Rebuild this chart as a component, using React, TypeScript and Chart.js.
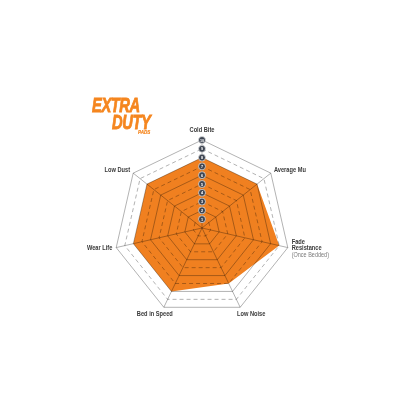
import React, { useEffect, useRef } from 'react';
import { Chart, registerables } from 'chart.js';

Chart.register(...registerables);

// axis names, clockwise from the top
const categories = ['Cold Bite', 'Average Mu', ['Fade', 'Resistance'], 'Low Noise', 'Bed in Speed', 'Wear Life', 'Low Dust'];
const categoryNotes = ['', '', '(Once Bedded)', '', '', '', ''];
const ratings = [8, 8, 9, 7, 8, 8, 8];
const tickValues = [1, 2, 3, 4, 5, 6, 7, 8, 9, 10];
const tickLabels = ['1', '2', '3', '4', '5', '6', '7', '8', '9', '10'];

const ORANGE = '#f08020';
const LABEL_FONT = '"Liberation Sans Narrow", "Arial Narrow", "Liberation Sans", Arial, sans-serif';
const SQUEEZE = 0.86; // horizontal squeeze for the condensed label type

// draws text squeezed horizontally around its anchor
function squeezedText(ctx: CanvasRenderingContext2D, text: string, x: number, y: number) {
    ctx.save();
    ctx.translate(x, y);
    ctx.scale(SQUEEZE, 1);
    ctx.fillText(text, 0, 0);
    ctx.restore();
}

// numbered badges up the first spoke
const badgePlugin = {
    id: 'ratingBadges',
    afterDraw(chart: any) {
        const scale = chart.scales.r;
        const ctx = chart.ctx;
        ctx.save();
        tickValues.forEach((v, i) => {
            const p = scale.getPointPositionForValue(0, v);
            ctx.beginPath();
            ctx.arc(p.x, p.y, 3.5, 0, Math.PI * 2);
            ctx.fillStyle = '#3f4653';
            ctx.fill();
            ctx.lineWidth = 0.7;
            ctx.strokeStyle = '#e8e8e8';
            ctx.stroke();
            ctx.fillStyle = '#ffffff';
            ctx.font = `bold 4.4px ${LABEL_FONT}`;
            ctx.textAlign = 'center';
            ctx.textBaseline = 'middle';
            squeezedText(ctx, tickLabels[i], p.x, p.y + 0.3);
        });
        ctx.restore();
    }
};

// axis names next to the outer polygon
const axisNamePlugin = {
    id: 'axisNames',
    afterDraw(chart: any) {
        const scale = chart.scales.r;
        const ctx = chart.ctx;
        const outer = scale.drawingArea;
        const lh = 6.8;
        ctx.save();
        ctx.textBaseline = 'middle';
        categories.forEach((label, i) => {
            const lines = (Array.isArray(label) ? label : [label]).map((t) => ({ t, note: false }));
            if (categoryNotes[i]) lines.push({ t: categoryNotes[i], note: true });
            const tip = scale.getPointPosition(i, outer);
            const deg = (((tip.angle + Math.PI / 2) * 180) / Math.PI + 360) % 360;
            let x: number;
            let y0: number;
            let align: CanvasTextAlign;
            if (deg < 1 || deg > 359) {
                align = 'center';
                x = tip.x;
                y0 = tip.y - 10;
            } else if (deg > 150 && deg < 210) {
                align = 'center';
                x = tip.x + (deg < 180 ? 11 : -9);
                y0 = tip.y + 7;
            } else {
                const p = scale.getPointPosition(i, outer + 4);
                align = deg < 180 ? 'left' : 'right';
                x = p.x;
                y0 = p.y - ((lines.length - 1) * lh) / 2;
            }
            ctx.textAlign = align;
            lines.forEach((ln, k) => {
                ctx.font = ln.note ? `6.4px ${LABEL_FONT}` : `bold 6.6px ${LABEL_FONT}`;
                ctx.fillStyle = ln.note ? '#7a7a7a' : '#3a3a3a';
                squeezedText(ctx, ln.t, x, y0 + k * lh);
            });
        });
        ctx.restore();
    }
};

const BrakePadChart: React.FC = () => {
    const chartRef = useRef<HTMLCanvasElement>(null);
    const chartInstance = useRef<Chart | null>(null);

    useEffect(() => {
        if (!chartRef.current) return;
        const ctx = chartRef.current.getContext('2d');
        if (!ctx) return;
        if (chartInstance.current) chartInstance.current.destroy();

        chartInstance.current = new Chart(ctx, {
            type: 'radar',
            data: {
                labels: categories as any,
                datasets: [{
                    label: 'Extra Duty',
                    data: ratings,
                    backgroundColor: ORANGE,
                    borderColor: ORANGE,
                    borderWidth: 0,
                    pointRadius: 0,
                    fill: true
                }]
            },
            options: {
                responsive: true,
                maintainAspectRatio: false,
                animation: false,
                layout: { padding: { left: 114, right: 125, top: 140, bottom: 100 } },
                plugins: {
                    legend: { display: false },
                    tooltip: { enabled: false }
                },
                scales: {
                    r: {
                        min: 0,
                        max: 10,
                        ticks: { display: false, stepSize: 1 },
                        pointLabels: { display: false },
                        grid: {
                            z: 1,
                            circular: false,
                            color: 'rgba(0,0,0,0.38)',
                            lineWidth: 0.8
                        },
                        border: {
                            dash: (c: any) => (c.tick && c.tick.value % 2 === 1 ? [4, 3] : [])
                        },
                        angleLines: {
                            color: 'rgba(0,0,0,0.38)',
                            lineWidth: 0.8
                        }
                    } as any
                }
            },
            plugins: [axisNamePlugin, badgePlugin]
        });

        return () => {
            if (chartInstance.current) {
                chartInstance.current.destroy();
                chartInstance.current = null;
            }
        };
    }, []);

    const logo: React.CSSProperties = {
        position: 'absolute',
        color: '#f5861f',
        fontFamily: LABEL_FONT,
        fontWeight: 900,
        fontStyle: 'italic',
        lineHeight: 1,
        whiteSpace: 'nowrap',
        transformOrigin: 'left top',
        WebkitTextStroke: '0.9px #f5861f'
    };

    return (
        <div style={{ position: 'absolute', left: 0, top: 0, width: 416, height: 416, background: '#ffffff' }}>
            <canvas ref={chartRef}></canvas>
            <div style={{ ...logo, left: 92, top: 94, fontSize: 21, transform: 'scaleX(0.7)', letterSpacing: -0.6 }}>EXTRA</div>
            <div style={{ ...logo, left: 112, top: 111, fontSize: 21, transform: 'scaleX(0.7)', letterSpacing: -0.6 }}>DUTY</div>
            <div style={{ ...logo, left: 138, top: 130, fontSize: 5, transform: 'scaleX(0.9)', WebkitTextStroke: '0.2px #f5861f' }}>PADS</div>
        </div>
    );
};

export default function App() {
    return <BrakePadChart />;
}
